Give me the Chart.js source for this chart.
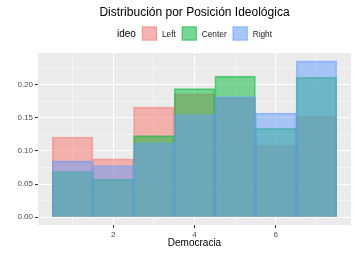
<!DOCTYPE html>
<html>
<head>
<meta charset="utf-8">
<script src="https://cdn.jsdelivr.net/npm/chart.js@4.4.1/dist/chart.umd.min.js"></script>
<style>
  html, body { margin: 0; padding: 0; background: #fff; }
</style>
</head>
<body>
<canvas id="chart" width="356" height="253"></canvas>
<script>
// histogram bins (Democracia) and density per ideology group
const bins = [1, 2, 3, 4, 5, 6, 7];
const leftVals = [0.121, 0.088, 0.166, 0.186, 0.180, 0.108, 0.153];
const centerVals = [0.069, 0.057, 0.123, 0.194, 0.213, 0.134, 0.211];
const rightVals = [0.085, 0.078, 0.112, 0.155, 0.182, 0.157, 0.236];
const groups = ['Left', 'Center', 'Right'];
const colors = ['#F8766D', '#00BA38', '#619CFF'];

const FONT = "'Liberation Sans', Arial, sans-serif";
const isMajor = (v, step) => Math.abs(v / step - Math.round(v / step)) < 1e-6;

function dataset(label, values, color, order) {
    return {
        label,
        data: bins.map((b, i) => ({ x: b, y: values[i] })),
        backgroundColor: color + '80',
        borderColor: color + '90',
        borderWidth: 1,
        grouped: false,
        barPercentage: 1,
        categoryPercentage: 1,
        order,
    };
}

// grey panel + title, legend and x title drawn like ggplot
const decor = {
    id: 'decor',
    beforeDraw(chart) {
        const { ctx, chartArea: a } = chart;
        ctx.save();
        ctx.fillStyle = '#FFFFFF';
        ctx.fillRect(0, 0, chart.width, chart.height);
        ctx.fillStyle = '#EBEBEB';
        ctx.fillRect(a.left, a.top, a.right - a.left, a.bottom - a.top);
        ctx.restore();
    },
    afterDraw(chart) {
        const { ctx, chartArea: a } = chart;
        const cx = (a.left + a.right) / 2;
        ctx.save();
        ctx.textBaseline = 'alphabetic';

        ctx.fillStyle = '#000';
        ctx.font = '12px ' + FONT;
        ctx.textAlign = 'center';
        ctx.fillText('Distribución por Posición Ideológica', cx, 16);

        ctx.font = '10px ' + FONT;
        ctx.fillText('Democracia', cx, 246);

        // legend
        const box = 15, gap = 5;
        ctx.textAlign = 'left';
        ctx.font = '10px ' + FONT;
        const titleW = ctx.measureText('ideo').width;
        ctx.font = '8.3px ' + FONT;
        const labelW = groups.map(g => ctx.measureText(g).width);
        const total = titleW + 6 + labelW.reduce((s, w) => s + box + gap + w, 0) + 2 * 6;
        let x = cx - total / 2;
        ctx.font = '10px ' + FONT;
        ctx.fillStyle = '#000';
        ctx.fillText('ideo', x, 37);
        x += titleW + 6;
        groups.forEach((g, i) => {
            ctx.fillStyle = '#F2F2F2';
            ctx.fillRect(x, 26.5, box, 14);
            ctx.fillStyle = colors[i] + '80';
            ctx.fillRect(x, 26.5, box, 14);
            ctx.strokeStyle = colors[i] + '90';
            ctx.lineWidth = 1;
            ctx.strokeRect(x + 0.5, 27, box - 1, 13);
            x += box + gap;
            ctx.fillStyle = '#1A1A1A';
            ctx.font = '8.3px ' + FONT;
            ctx.fillText(g, x, 37);
            x += labelW[i] + 6;
        });
        ctx.restore();
    },
};

new Chart(document.getElementById('chart'), {
    type: 'bar',
    data: {
        datasets: [
            dataset(groups[0], leftVals, colors[0], 3),
            dataset(groups[1], centerVals, colors[1], 2),
            dataset(groups[2], rightVals, colors[2], 1),
        ],
    },
    options: {
        responsive: false,
        devicePixelRatio: 1,
        animation: false,
        layout: { padding: { top: 53, right: 5, left: 0, bottom: 0 } },
        plugins: { legend: { display: false }, title: { display: false }, tooltip: { enabled: false } },
        scales: {
            x: {
                type: 'linear',
                min: 0.15,
                max: 7.85,
                offset: false,
                border: { display: false },
                ticks: {
                    stepSize: 1,
                    includeBounds: false,
                    autoSkip: false,
                    maxRotation: 0,
                    padding: 2,
                    color: '#4D4D4D',
                    font: { family: FONT, size: 8 },
                    callback: v => (v % 2 === 0 ? String(v) : ''),
                },
                grid: {
                    offset: false,
                    color: '#FFFFFF',
                    lineWidth: c => (c.tick && c.tick.value % 2 === 0 ? 1 : 0.5),
                    tickLength: 3,
                    tickWidth: 1,
                    tickColor: c => (c.tick && c.tick.value % 2 === 0 ? '#333333' : 'rgba(0,0,0,0)'),
                },
                afterFit(scale) { scale.height = 28; },
            },
            y: {
                min: -0.0118,
                max: 0.2478,
                border: { display: false },
                ticks: {
                    stepSize: 0.025,
                    includeBounds: false,
                    autoSkip: false,
                    padding: 2,
                    color: '#4D4D4D',
                    font: { family: FONT, size: 8 },
                    callback: v => (isMajor(v, 0.05) ? v.toFixed(2) : ''),
                },
                grid: {
                    color: '#FFFFFF',
                    lineWidth: c => (c.tick && isMajor(c.tick.value, 0.05) ? 1 : 0.5),
                    tickLength: 3,
                    tickWidth: 1,
                    tickColor: c => (c.tick && isMajor(c.tick.value, 0.05) ? '#333333' : 'rgba(0,0,0,0)'),
                },
                afterFit(scale) { scale.width = 38; },
            },
        },
    },
    plugins: [decor],
});
</script>
</body>
</html>
